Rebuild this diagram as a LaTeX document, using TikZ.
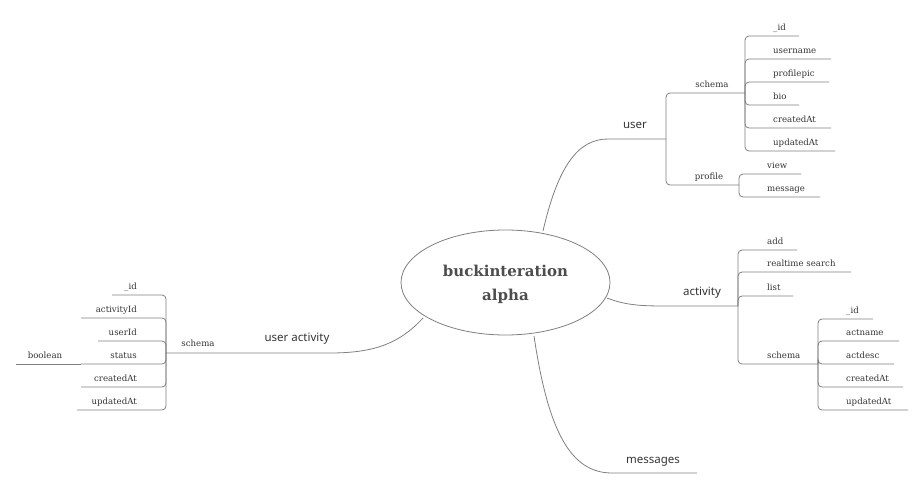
\documentclass[tikz,border=0pt]{standalone}
\usepackage{fontspec}
\setmainfont{DejaVu Serif}
\newfontfamily\branchfont{Noto Sans}
\usetikzlibrary{shapes.geometric}
\definecolor{lncol}{HTML}{7F7F7F}
\definecolor{txcol}{HTML}{333333}
\definecolor{ttcol}{HTML}{4D4D4D}
\begin{document}
\begin{tikzpicture}[x=1pt,y=-1pt,
  conn/.style={draw=lncol, line width=0.8pt, rounded corners=4pt},
  curv/.style={draw=lncol, line width=0.8pt},
  lbl/.style={text=txcol, font=\fontsize{8.6}{10}\selectfont, inner sep=0pt},
  lblR/.style={lbl, anchor=base west},
  lblL/.style={lbl, anchor=base east},
  brl/.style={text=txcol, font=\branchfont\fontsize{11.5}{13}\selectfont, inner sep=0pt, anchor=base},
  title/.style={ellipse, draw=lncol, line width=0.8pt, minimum width=209pt, minimum height=105pt, text=ttcol, font=\bfseries\fontsize{15}{24}\selectfont, align=center, inner sep=0pt}
]
\useasboundingbox (0,0) rectangle (924,490);

% centre
\node[title] (root) at (505.5,282.5) {};
\node[text=ttcol, font=\bfseries\fontsize{15}{24}\selectfont, align=center, inner sep=0pt] (rootT) at (505.5,284) {buckinteration\\alpha};

% ---------- user ----------
\coordinate (uS) at (543,231);
\coordinate (uH) at (608,139);
\coordinate (uJ) at (666,139);
\draw[curv] (uS) .. controls (558,166) and (578,139) .. (uH) -- (uJ);
\node[brl] (uL) at (635,128) {user};

\coordinate (usJ) at (745,93);
\coordinate (upJ) at (739,185);
\draw[conn] (uJ) |- (usJ);
\draw[conn] (uJ) |- (upJ);
\node[lbl, anchor=base] (usL) at (712,87) {schema};
\node[lbl, anchor=base] (upL) at (709,179) {profile};

\coordinate (us1) at (799,36);
\coordinate (us2) at (831,59);
\coordinate (us3) at (829,82);
\coordinate (us4) at (799,105);
\coordinate (us5) at (831,128);
\coordinate (us6) at (835,151);
\foreach \c in {us1,us2,us3,us4,us5,us6} \draw[conn] (usJ) |- (\c);
\node[lblR] (us1L) at (773,30) {\_id};
\node[lblR] (us2L) at (773,53) {username};
\node[lblR] (us3L) at (773,76) {profilepic};
\node[lblR] (us4L) at (773,99) {bio};
\node[lblR] (us5L) at (773,122) {createdAt};
\node[lblR] (us6L) at (773,145) {updatedAt};

\coordinate (up1) at (801,174);
\coordinate (up2) at (820,197);
\draw[conn] (upJ) |- (up1);
\draw[conn] (upJ) |- (up2);
\node[lblR] (up1L) at (767,168) {view};
\node[lblR] (up2L) at (767,191) {message};

% ---------- activity ----------
\coordinate (aS) at (607,298);
\coordinate (aJ) at (738,306);
\draw[curv] (aS) .. controls (625,305) and (640,306) .. (665,306) -- (aJ);
\node[brl] (aL) at (702,295) {activity};

\coordinate (a1) at (797,250);
\coordinate (a2) at (851,272);
\coordinate (a3) at (793,296);
\coordinate (asJ) at (818,364);
\foreach \c in {a1,a2,a3,asJ} \draw[conn] (aJ) |- (\c);
\node[lblR] (a1L) at (767,244) {add};
\node[lblR] (a2L) at (767,266) {realtime search};
\node[lblR] (a3L) at (767,290) {list};
\node[lblR] (a4L) at (767,358) {schema};

\coordinate (as1) at (873,319);
\coordinate (as2) at (899,341);
\coordinate (as3) at (894,364);
\coordinate (as4) at (903,387);
\coordinate (as5) at (908,410);
\foreach \c in {as1,as2,as3,as4,as5} \draw[conn] (asJ) |- (\c);
\node[lblR] (as1L) at (846,313) {\_id};
\node[lblR] (as2L) at (846,335) {actname};
\node[lblR] (as3L) at (846,358) {actdesc};
\node[lblR] (as4L) at (846,381) {createdAt};
\node[lblR] (as5L) at (846,404) {updatedAt};

% ---------- messages ----------
\coordinate (mS) at (534,336);
\coordinate (mE) at (697,473);
\draw[curv] (mS) .. controls (548,430) and (570,473) .. (612,473) -- (mE);
\node[brl] (mL) at (653,463) {messages};

% ---------- user activity ----------
\coordinate (vS) at (423,318);
\coordinate (vJ) at (166,353);
\draw[curv] (vS) .. controls (400,343) and (375,353) .. (330,353) -- (vJ);
\node[brl] (vL) at (297,341) {user activity};
\node[lbl, anchor=base] (vsL) at (198,346) {schema};

\coordinate (v1) at (112,295);
\coordinate (v2) at (81,318);
\coordinate (v3) at (98,341);
\coordinate (v4) at (81,364);
\coordinate (v5) at (81,387);
\coordinate (v6) at (77,410);
\foreach \c in {v1,v2,v3,v4,v5,v6} \draw[conn] (vJ) |- (\c);
\coordinate (vb) at (16,364);
\draw[curv] (v4) -- (vb);
\node[lblL] (v1L) at (137,289) {\_id};
\node[lblL] (v2L) at (137,312) {activityId};
\node[lblL] (v3L) at (137,335) {userId};
\node[lblL] (v4L) at (137,358) {status};
\node[lblL] (v5L) at (137,381) {createdAt};
\node[lblL] (v6L) at (137,404) {updatedAt};
\node[lbl, anchor=base] (vbL) at (45,358) {boolean};
\end{tikzpicture}
\end{document}
